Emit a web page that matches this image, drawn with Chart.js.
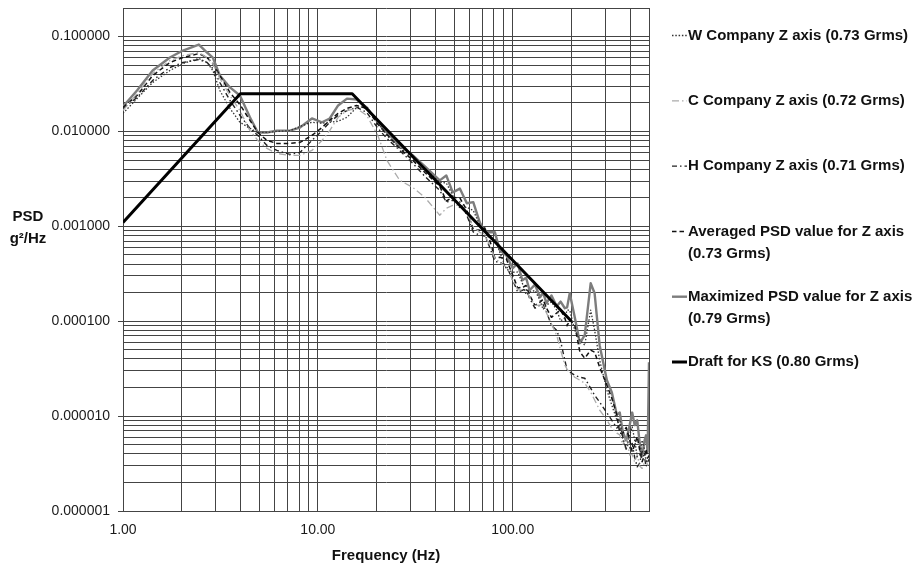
<!DOCTYPE html>
<html><head><meta charset="utf-8">
<script src="https://cdn.jsdelivr.net/npm/chart.js@4.4.1/dist/chart.umd.min.js"></script>
<style>html,body{margin:0;padding:0;background:#fff;}canvas{display:block;}</style>
</head><body>
<canvas id="c" width="916" height="567"></canvas>
<script>
const seriesNames = [
  'W Company Z axis (0.73 Grms)',
  'C Company Z axis (0.72 Grms)',
  'H Company Z axis (0.71 Grms)',
  'Averaged PSD value for Z axis (0.73 Grms)',
  'Maximized PSD value for Z axis (0.79 Grms)',
  'Draft for KS (0.80 Grms)'
];
const xTitle = 'Frequency (Hz)';
const yTitleLines = ['PSD', 'g\u00B2/Hz'];

const freq = [1.00,1.18,1.42,1.74,2.03,2.45,2.70,2.89,3.14,3.54,
  3.98,4.48,4.92,5.48,6.16,7.18,8.09,9.32,10.5,11.5,
  12.7,14.1,15.8,17.8,20.3,22.6,26.3,30.7,35.4,
  42.2,45.6,49.2,53.5,58.1,62.7,67.7,71.8,76.2,80.9,
  85.8,92.6,100,106,112,117,122,130,138,143,
  149,158,168,176,185,190,196,208,221,234,
  251,263,279,304,322,342,354,367,382,398,
  410,422,435,448,461,475,483,492,500];

const psdW = [0.0155,0.0222,0.0328,0.0439,0.0520,0.0587,0.0533,0.0439,0.0270,0.0175,
  0.0125,0.0108,0.00976,0.00976,0.0100,0.0102,0.0113,0.0125,0.0122,0.0125,
  0.0128,0.0141,0.0179,0.0183,0.0125,0.00908,0.00679,0.00520,0.00408,
  0.00291,0.00286,0.00212,0.00156,0.00159,0.00147,0.00103,0.000755,0.000766,0.000735,
  0.000533,0.000355,0.000328,0.000330,0.000251,0.000191,0.000202,0.000211,0.000166,0.000133,
  0.000148,0.000160,0.000131,0.000101,0.000108,0.000131,0.000131,0.0000804,0.0000631,0.0000559,
  0.000131,0.0000804,0.0000389,0.0000188,0.0000131,0.00000908,0.00000926,0.00000559,0.00000445,0.00000631,
  0.00000772,0.00000559,0.00000373,0.00000389,0.00000558,0.00000439,0.00000322,0.00000370,0.00000390];

const psdC = [0.0166,0.0251,0.0408,0.0559,0.0631,0.0679,0.0601,0.0520,0.0362,0.0239,
  0.0166,0.0102,0.00804,0.00662,0.00587,0.00559,0.00559,0.00631,0.00804,0.0102,
  0.0141,0.0166,0.0175,0.0148,0.00908,0.00496,0.00305,0.00257,0.00202,
  0.00131,0.00155,0.00166,0.00168,0.00141,0.00099,0.000865,0.000813,0.000631,0.000462,
  0.000418,0.000370,0.000270,0.000215,0.000212,0.000214,0.000179,0.000147,0.000148,0.000148,
  0.000122,0.0000932,0.0000712,0.0000496,0.0000345,0.0000313,0.0000284,0.0000257,0.0000239,0.0000222,
  0.0000179,0.0000148,0.0000116,0.00000908,0.00000748,0.00000662,0.00000634,0.00000496,0.00000630,0.00000389,
  0.00000395,0.00000328,0.00000393,0.00000298,0.00000281,0.00000328,0.00000344,0.00000305,0.00000320];

const psdH = [0.0175,0.0228,0.0345,0.0472,0.0533,0.0573,0.0533,0.0461,0.0328,0.0212,
  0.0148,0.0108,0.00908,0.00712,0.00631,0.00573,0.00601,0.00804,0.0102,0.0125,
  0.0148,0.0166,0.0179,0.0159,0.0108,0.00844,0.00631,0.00461,0.00336,
  0.00239,0.00180,0.00188,0.00181,0.00131,0.000872,0.000804,0.000799,0.000601,0.000426,
  0.000418,0.000386,0.000270,0.000203,0.000212,0.000222,0.000175,0.000137,0.000148,0.000150,
  0.000125,0.0000902,0.0000804,0.0000615,0.0000389,0.0000303,0.0000291,0.0000270,0.0000257,0.0000251,
  0.0000197,0.0000166,0.0000141,0.0000108,0.00000908,0.00000748,0.00000804,0.00000601,0.00000447,0.00000461,
  0.00000516,0.00000370,0.00000292,0.00000320,0.00000425,0.00000362,0.00000293,0.00000328,0.00000350];

const psdAvg = [0.0179,0.0239,0.0389,0.0533,0.0601,0.0662,0.0601,0.0520,0.0389,0.0257,
  0.0192,0.0131,0.00976,0.00804,0.00748,0.00748,0.00766,0.00908,0.0110,0.0131,
  0.0155,0.0175,0.0188,0.0175,0.0119,0.00930,0.00662,0.00496,0.00370,
  0.00264,0.00185,0.00202,0.00199,0.00148,0.000927,0.000908,0.000965,0.000712,0.000464,
  0.000472,0.000455,0.000305,0.000224,0.000228,0.000238,0.000188,0.000147,0.000159,0.000170,
  0.000137,0.000110,0.000122,0.000132,0.000108,0.0000895,0.000103,0.0000908,0.0000472,0.0000408,
  0.0000496,0.0000472,0.0000328,0.0000212,0.0000155,0.0000103,0.00000661,0.00000662,0.00000760,0.00000559,
  0.00000421,0.00000496,0.00000607,0.00000439,0.00000331,0.00000389,0.00000450,0.00000362,0.00000380];

const psdMax = [0.0183,0.0270,0.0439,0.0601,0.0712,0.0824,0.0679,0.0601,0.0389,0.0291,
  0.0239,0.0141,0.00976,0.00976,0.0102,0.0102,0.0110,0.0137,0.0125,0.0137,
  0.0188,0.0222,0.0217,0.0179,0.0125,0.00976,0.00712,0.00559,0.00428,
  0.00305,0.00343,0.00228,0.00250,0.00175,0.00180,0.00110,0.000878,0.000865,0.000869,
  0.000559,0.000495,0.000362,0.000406,0.000270,0.000287,0.000212,0.000243,0.000179,0.000200,
  0.000155,0.000187,0.000144,0.000161,0.000137,0.000140,0.000197,0.000110,0.0000587,0.0000712,
  0.000251,0.000197,0.0000559,0.0000239,0.0000179,0.0000103,0.0000109,0.00000679,0.00000554,0.00000804,
  0.0000109,0.00000804,0.00000905,0.00000520,0.00000378,0.00000559,0.00000628,0.00000418,0.0000370];

const draftFreq = [1, 4, 15, 200];
const draftPsd = [0.0011, 0.025, 0.025, 0.0001];

const xGrid = [1,2,3,4,5,6,7,8,9,10,20,30,40,50,60,70,80,90,100,200,300,400,500];
const xMajor = [1, 10, 100];
const xTickLabels = ['1.00', '10.00', '100.00'];
const yGrid = [0.000001,0.000002,0.000003,0.000004,0.000005,0.000006,0.000007,0.000008,0.000009,
  0.00001,0.00002,0.00003,0.00004,0.00005,0.00006,0.00007,0.00008,0.00009,
  0.0001,0.0002,0.0003,0.0004,0.0005,0.0006,0.0007,0.0008,0.0009,
  0.001,0.002,0.003,0.004,0.005,0.006,0.007,0.008,0.009,
  0.01,0.02,0.03,0.04,0.05,0.06,0.07,0.08,0.09,
  0.1,0.2];
const yMajor = [0.000001,0.00001,0.0001,0.001,0.01,0.1];
const yTickLabels = ['0.000001','0.000010','0.000100','0.001000','0.010000','0.100000'];

const FONT = '"Liberation Sans", Arial, Helvetica, sans-serif';
const GRID = '#444444';

function idxOf(list, v) {
  return list.findIndex(m => Math.abs(m - v) / m < 1e-6);
}
function pts(xs, ys) { return xs.map((f, i) => ({x: f, y: ys[i]})); }

function wrapText(ctx, text, maxW) {
  const words = text.split(' ');
  const lines = [];
  let cur = '';
  words.forEach(w => {
    const t = cur ? cur + ' ' + w : w;
    if (ctx.measureText(t).width > maxW && cur) { lines.push(cur); cur = w; }
    else cur = t;
  });
  if (cur) lines.push(cur);
  return lines;
}

const overlay = {
  id: 'overlay',
  afterDraw(chart) {
    const ctx = chart.ctx;
    ctx.save();
    ctx.fillStyle = '#111';
    ctx.font = 'bold 15px ' + FONT;
    ctx.textAlign = 'center';
    ctx.textBaseline = 'middle';
    ctx.fillText(yTitleLines[0], 28, 217);
    ctx.fillText(yTitleLines[1], 28, 239);
    const x0 = 672, x1 = 687, tx = 688;
    chart.data.datasets.forEach((ds, i) => {
      const y = 35.5 + i * 65.3;
      ctx.strokeStyle = ds.borderColor;
      ctx.lineWidth = ds.borderWidth;
      ctx.setLineDash(ds.borderDash || []);
      ctx.beginPath(); ctx.moveTo(x0, y); ctx.lineTo(x1, y); ctx.stroke();
      ctx.setLineDash([]);
      ctx.textAlign = 'left';
      ctx.fillStyle = '#111';
      const lines = wrapText(ctx, ds.label, chart.width - tx - 2);
      lines.forEach((ln, k) => ctx.fillText(ln, tx, y + k * 22));
    });
    ctx.restore();
  }
};

const common = {pointRadius: 0, fill: false, tension: 0, borderJoinStyle: 'round'};

new Chart(document.getElementById('c'), {
  type: 'line',
  data: {
    datasets: [
      Object.assign({label: seriesNames[0], data: pts(freq, psdW), borderColor: '#333333', borderWidth: 1.3, borderDash: [1.5, 1.8], order: 1}, common),
      Object.assign({label: seriesNames[1], data: pts(freq, psdC), borderColor: '#ababab', borderWidth: 1.3, borderDash: [7, 3, 1.5, 3], order: 2}, common),
      Object.assign({label: seriesNames[2], data: pts(freq, psdH), borderColor: '#222222', borderWidth: 1.4, borderDash: [5, 3, 1.5, 3], order: 3}, common),
      Object.assign({label: seriesNames[3], data: pts(freq, psdAvg), borderColor: '#111111', borderWidth: 1.5, borderDash: [4.5, 3], order: 4}, common),
      Object.assign({label: seriesNames[4], data: pts(freq, psdMax), borderColor: '#7d7d7d', borderWidth: 2.4, borderDash: [], order: 5}, common),
      Object.assign({label: seriesNames[5], data: pts(draftFreq, draftPsd), borderColor: '#000000', borderWidth: 3, borderDash: [], order: 0}, common)
    ]
  },
  options: {
    responsive: false,
    animation: false,
    devicePixelRatio: 1,
    layout: {padding: {left: 0, right: 267, top: 0, bottom: 0}},
    plugins: {legend: {display: false}, tooltip: {enabled: false}},
    scales: {
      x: {
        type: 'logarithmic', min: 1, max: 500,
        afterBuildTicks: s => { s.ticks = xGrid.map(v => ({value: v})); },
        afterFit: s => { s.height = 56; },
        grid: {color: GRID, lineWidth: 1, tickLength: 8, tickColor: 'rgba(0,0,0,0)'},
        border: {color: GRID},
        ticks: {
          autoSkip: false, maxRotation: 0, padding: 3, color: '#1a1a1a',
          font: {family: FONT, size: 14},
          callback: v => { const i = idxOf(xMajor, v); return i >= 0 ? xTickLabels[i] : []; }
        },
        title: {display: true, text: xTitle, color: '#111', font: {family: FONT, size: 15, weight: 'bold'}, padding: {top: 4, bottom: 2}}
      },
      y: {
        type: 'logarithmic', min: 0.000001, max: 0.2,
        afterBuildTicks: s => { s.ticks = yGrid.map(v => ({value: v})); },
        afterFit: s => { s.width = 123; },
        grid: {color: GRID, lineWidth: 1, tickLength: 5,
          tickColor: c => (c.tick && idxOf(yMajor, c.tick.value) >= 0) ? GRID : 'rgba(0,0,0,0)'},
        border: {color: GRID},
        ticks: {
          autoSkip: false, padding: 8, color: '#1a1a1a',
          font: {family: FONT, size: 14},
          callback: v => { const i = idxOf(yMajor, v); return i >= 0 ? yTickLabels[i] : []; }
        }
      }
    }
  },
  plugins: [overlay]
});
</script>
</body></html>
